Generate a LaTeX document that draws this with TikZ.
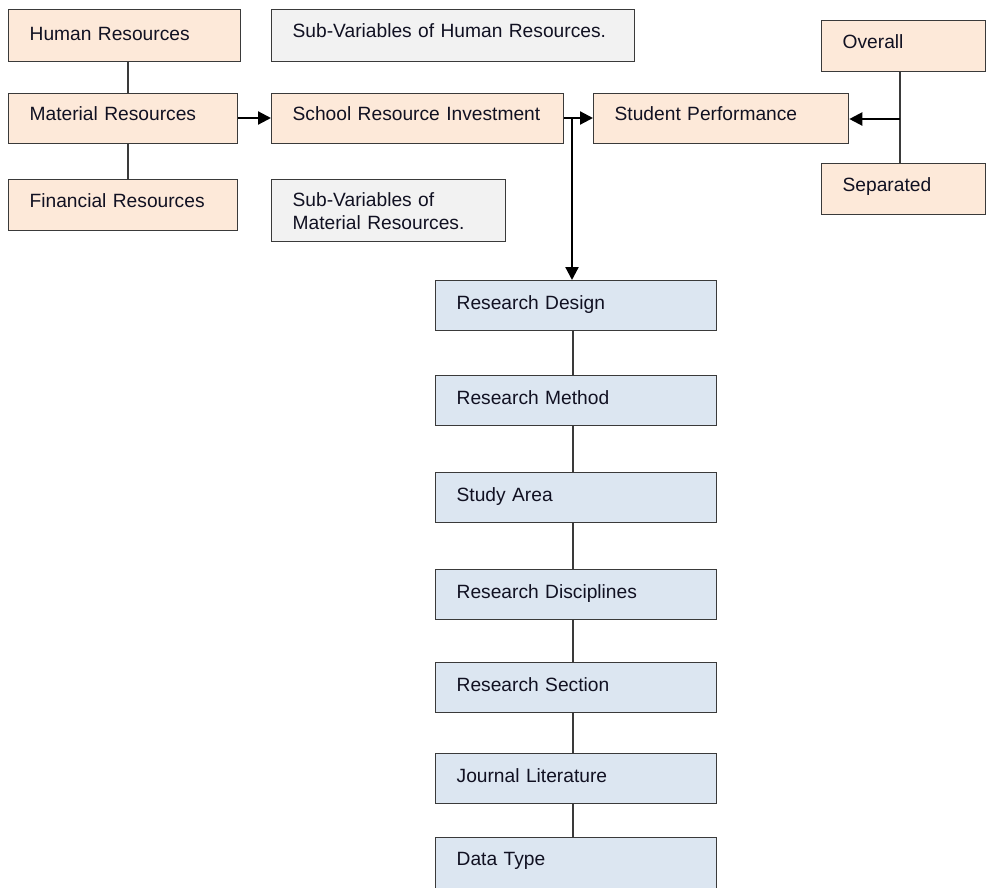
\documentclass[tikz,border=0pt]{standalone}
\usepackage{fontspec}
\setmainfont{Liberation Sans}
\usetikzlibrary{arrows.meta}
\definecolor{peach}{HTML}{FDE9D9}
\definecolor{paleblue}{HTML}{DCE6F1}
\definecolor{palegray}{HTML}{F2F2F2}
\definecolor{edge}{HTML}{3A3A3A}
\definecolor{ink}{HTML}{111122}
\begin{document}
\begin{tikzpicture}[x=1pt,y=-1pt,
  box/.style={draw=edge, line width=1.3pt, anchor=north west, align=left,
    inner xsep=21pt, inner ysep=0pt, font=\fontsize{19.2}{23}\selectfont, text=ink},
  one/.style={text depth=10pt},
  obox/.style={box, fill=peach},
  bbox/.style={box, text depth=7pt, fill=paleblue, text width=239pt, minimum height=50pt},
  gbox/.style={box, fill=palegray},
  link/.style={draw=edge, line width=1.3pt},
  arr/.style={draw=black, line width=2.2pt, -{Triangle[length=13pt,width=13pt]}}]
\useasboundingbox (0,0) rectangle (988,887);
\clip (0,0) rectangle (988,887);
% left column
\node[obox, text depth=4pt, text width=190pt, minimum height=52pt] (hr) at (8,9) {Human Resources};
\node[obox, one, text width=187pt, minimum height=50pt] (mr) at (8,93) {Material Resources};
\node[obox, one, text width=187pt, minimum height=51pt] (fr) at (8,179) {Financial Resources};
% grey notes
\node[gbox, one, text width=321pt, minimum height=52pt] (shr) at (271,9) {Sub-Variables of Human Resources.};
\node[gbox, text width=192pt, minimum height=62pt] (smr) at (271,179) {Sub-Variables of\\Material Resources.};
% middle
\node[obox, one, text width=250pt, minimum height=50pt] (sri) at (271,93) {School Resource Investment};
\node[obox, one, text width=213pt, minimum height=50pt] (sp) at (593,93) {Student Performance};
% right
\node[obox, one, text width=122pt, minimum height=51pt] (ov) at (821,20) {Overall};
\node[obox, one, text width=122pt, minimum height=51pt] (se) at (821,163) {Separated};
% blue column
\node[bbox] (rd) at (435,280) {Research Design};
\node[bbox] (rm) at (435,375) {Research Method};
\node[bbox] (sa) at (435,472) {Study Area};
\node[bbox] (rdi) at (435,569) {Research Disciplines};
\node[bbox] (rs) at (435,662) {Research Section};
\node[bbox] (jl) at (435,753) {Journal Literature};
\node[bbox, minimum height=56pt, text depth=14pt] (dt) at (435,837) {Data Type};
% connectors
\draw[link] (hr.south -| 128,0) -- (mr.north -| 128,0);
\draw[link] (mr.south -| 128,0) -- (fr.north -| 128,0);
\coordinate (ovx) at (900,0);
\draw[link] (ov.south -| ovx) -- (se.north -| ovx);
\coordinate (jx) at (900,119);
\draw[arr] (jx) -- (sp.east |- jx);
\draw[arr] (mr.east |- 0,118) -- (sri.west |- 0,118);
\draw[arr] (sri.east |- 0,118) -- (sp.west |- 0,118);
\coordinate (dx) at (572,118);
\draw[arr] (dx) -- (rd.north -| dx);
\foreach \a/\b in {rd/rm, rm/sa, sa/rdi, rdi/rs, rs/jl, jl/dt}
  \draw[link] (\a.south -| 573,0) -- (\b.north -| 573,0);
\end{tikzpicture}
\end{document}
